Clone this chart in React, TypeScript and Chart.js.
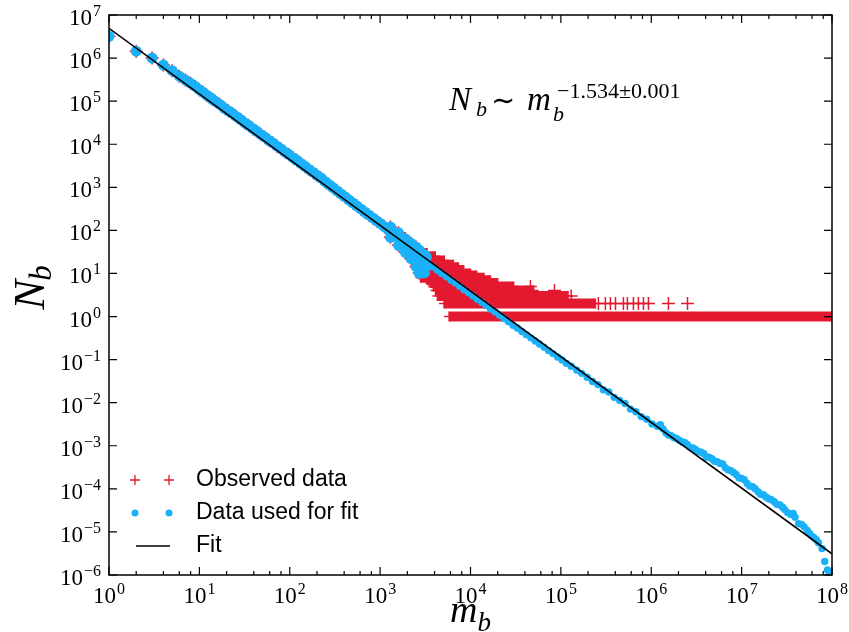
import React, { useEffect, useRef } from 'react';
import { Chart, registerables } from 'chart.js';

Chart.register(...registerables);

// ---------------- data ----------------
// main power-law trend, shared by "Observed data" and "Data used for fit"
const trendM = [1, 2, 3, 4, 5, 6, 7, 8, 9, 10, 11, 12, 13, 14, 15, 17, 19, 21, 23, 26, 29, 32, 35, 39, 43, 48, 53, 59, 65, 72, 80, 89, 98,
  109, 120, 133, 147, 163, 180, 200, 221, 245, 271, 300, 332, 367, 406, 450, 498, 551, 610, 675, 747, 827, 915,
  1013, 1121, 1241, 1373, 1520, 1682, 1862, 2061, 2281, 2525, 2795, 3094];
const trendN = [3.2e6, 1.45e6, 1.0e6, 6.9e5, 5.1e5, 3.8e5, 3.1e5, 2.6e5, 2.2e5, 1.84e5, 1.6e5, 1.38e5, 1.24e5, 1.09e5, 9.9e4,
  8.3e4, 6.8e4, 5.9e4, 5.25e4, 4.3e4, 3.65e4, 3.08e4, 2.74e4, 2.3e4, 2.0e4, 1.67e4, 1.46e4, 1.22e4, 1.07e4, 9.0e3, 7.8e3, 6.55e3, 5.75e3,
  4.8e3, 4.25e3, 3.55e3, 3.07e3, 2.6e3, 2.25e3, 1.9e3, 1.65e3, 1.37e3, 1.16e3, 984, 832, 706, 605, 512, 434, 372, 314, 266, 228, 195, 167,
  143, 120, 103, 86, 74, 62, 53, 44, 37, 31.7, 27.2, 23.3];

// widening scatter near the end of the trend (mostly below it)
const scatterM = [1300, 1300, 1600, 1600, 1900, 1900, 2200, 2200, 2200, 2500, 2500, 2500, 2700, 2700, 2700, 2900, 2900, 2900, 3100, 3100, 3250, 3250];
const scatterN = [69, 120, 45, 88, 31, 64, 22, 30, 50, 14.4, 21, 41, 10.2, 16, 35, 10.2, 19, 30, 10.4, 27, 15, 24];

// data used for fit beyond the trend (thin tail along the fit)
const tailM = [3400, 3800, 4300, 4800, 5400, 6100, 6800, 7600, 8500, 9500, 10600, 11900, 13300, 14900, 16700, 18700, 21000, 23500, 26300, 29500,
  33000, 37000, 41500, 46500, 52000, 58000, 65000, 73000, 82000, 92000, 103000, 115000, 130000, 150000, 170000, 195000,
  224000, 257000, 295000, 339000, 389000, 447000, 513000, 589000, 676000, 776000, 891000,
  1.02e6, 1.17e6, 1.35e6, 1.55e6, 1.78e6, 2.04e6, 2.34e6, 2.69e6, 3.09e6, 3.55e6, 4.07e6, 4.68e6, 5.37e6, 6.17e6, 7.08e6, 8.13e6, 9.33e6,
  1.07e7, 1.23e7, 1.41e7, 1.62e7, 1.86e7, 2.14e7, 2.45e7, 2.82e7, 3.24e7, 3.72e7, 4.27e7, 4.9e7, 5.62e7, 6.31e7, 7.08e7, 7.76e7,
  8.32e7, 8.91e7, 9.33e7, 9.77e7];
const tailN = [17.0, 14.3, 11.9, 10.0, 8.4, 7.0, 6.0, 5.0, 4.2, 3.55, 3.0, 2.52, 2.14, 1.8, 1.5, 1.28, 1.07, 0.9, 0.76, 0.63,
  0.54, 0.45, 0.38, 0.32, 0.27, 0.23, 0.195, 0.162, 0.138, 0.115, 0.098, 0.082, 0.07, 0.057, 0.048, 0.039,
  0.031, 0.0263, 0.0200, 0.0177, 0.0133, 0.0113, 0.0096, 0.0071, 0.00615, 0.00476, 0.00413,
  0.0032, 0.00284, 0.00247, 0.00178, 0.00155, 0.00134, 0.00119, 9.2e-4, 8.2e-4, 7.1e-4, 5.5e-4, 5.0e-4, 4.24e-4, 3.76e-4, 2.78e-4, 2.41e-4, 1.82e-4,
  1.62e-4, 1.17e-4, 1.01e-4, 7.5e-5, 6.5e-5, 5.6e-5, 4.4e-5, 3.8e-5, 2.8e-5, 2.67e-5, 1.56e-5, 1.33e-5, 9.4e-6, 7.3e-6, 5.6e-6, 4.1e-6,
  2.05e-6, 1.31e-6, 1.19e-6, 1.15e-6];
// more tail points in the sparse high-mass range
const tail2M = [1.26e6, 1.45e6, 1.66e6, 1.9e6, 2.2e6, 2.5e6, 2.9e6, 3.3e6, 3.8e6, 4.35e6, 5.0e6, 5.8e6, 6.6e6, 7.6e6, 8.7e6,
  1.0e7, 1.15e7, 1.32e7, 1.52e7, 1.74e7, 2.0e7, 2.3e7, 2.63e7, 3.0e7, 3.5e7, 3.9e7, 4.6e7, 5.3e7, 6.0e7, 6.7e7];
const tail2N = [0.0031, 0.0020, 0.00172, 0.00147, 0.00122, 0.00108, 8.9e-4, 7.4e-4, 6.6e-4, 5.4e-4, 4.4e-4, 3.9e-4, 3.1e-4, 2.65e-4, 2.15e-4,
  1.75e-4, 1.33e-4, 1.12e-4, 8.6e-5, 7.3e-5, 5.9e-5, 5.0e-5, 4.3e-5, 3.3e-5, 2.55e-5, 2.2e-5, 1.5e-5, 1.1e-5, 8.0e-6, 6.6e-6];

// observed data beyond the trend: rows of equal count N_b spanning a mass range
const rowN = [1, 2, 3, 4, 5, 6, 7, 8, 9, 10, 12, 14, 16, 20, 25, 30];
const rowStartM = [5800, 5100, 4300, 4100, 3870, 3600, 3330, 2800, 3000, 3000, 3000, 3100, 3100, 3100, 3100, 3100];
const rowEndM = [1e8, 2.41e5, 1.2e5, 5.0e4, 3.0e4, 2.0e4, 1.66e4, 1.41e4, 1.17e4, 1.0e4, 8410, 7330, 6460, 5130, 4070, 3300];

// isolated observed points
const sparseM = [8.5e4, 4.6e4, 1.3e5, 2.6e5, 3.11e5, 3.53e5, 4.02e5, 4.92e5, 5.45e5, 6.35e5, 7.21e5, 8.2e5, 9.31e5, 1.55e6, 2.52e6];
const sparseN = [4, 5, 3, 2, 2, 2, 2, 2, 2, 2, 2, 2, 2, 2, 2];

// fit: N_b ~ m_b^-1.534
const fitM = [1, 1e8];
const fitN = [4.9e6, 3.1e-6];

// axes
const xMajorExps = [0, 1, 2, 3, 4, 5, 6, 7, 8];
const xMinorSubs = [2, 4, 6, 8];
const yMajorExps = [-6, -5, -4, -3, -2, -1, 0, 1, 2, 3, 4, 5, 6, 7];

const legendLabels = ['Observed data', 'Data used for fit', 'Fit'];
const fitExponentText = '\u22121.534\u00B10.001';

// ---------------- styling ----------------
const RED = '#E4192F';
const BLUE = '#1BB1F8';
const SERIF = '"Liberation Serif", "DejaVu Serif", serif';
const SANS = '"Liberation Sans", Arial, sans-serif';

const pts = (ms: number[], ns: number[]) => ms.map((m, i) => ({ x: m, y: ns[i] }));

function supText(e: number) {
  return e < 0 ? '\u2212' + String(-e) : String(e);
}

function drawPow(ctx: CanvasRenderingContext2D, exp: number, x: number, baseY: number, supY: number, align: 'center' | 'right') {
  ctx.font = `23px ${SERIF}`;
  const wb = ctx.measureText('10').width;
  const s = supText(exp);
  ctx.font = `16px ${SERIF}`;
  const ws = ctx.measureText(s).width;
  const total = wb + 1 + ws;
  const x0 = align === 'center' ? x - total / 2 : x - total;
  ctx.textAlign = 'left';
  ctx.textBaseline = 'alphabetic';
  ctx.font = `23px ${SERIF}`;
  ctx.fillText('10', x0, baseY);
  ctx.font = `16px ${SERIF}`;
  ctx.fillText(s, x0 + wb + 1, supY);
}

const decorPlugin = {
  id: 'decor',
  afterDraw(chart: any) {
    const { ctx, chartArea: a } = chart;
    const xs = chart.scales.x;
    const ys = chart.scales.y;
    ctx.save();
    ctx.strokeStyle = '#000';
    ctx.fillStyle = '#000';

    // ticks (inward, on all four sides)
    ctx.lineWidth = 1.2;
    ctx.beginPath();
    for (const e of xMajorExps) {
      const px = xs.getPixelForValue(Math.pow(10, e));
      ctx.moveTo(px, a.bottom); ctx.lineTo(px, a.bottom - 8);
      ctx.moveTo(px, a.top); ctx.lineTo(px, a.top + 8);
    }
    for (const e of xMajorExps.slice(0, -1)) {
      for (const s of xMinorSubs) {
        const px = xs.getPixelForValue(s * Math.pow(10, e));
        ctx.moveTo(px, a.bottom); ctx.lineTo(px, a.bottom - 4);
        ctx.moveTo(px, a.top); ctx.lineTo(px, a.top + 4);
      }
    }
    for (const e of yMajorExps) {
      const py = ys.getPixelForValue(Math.pow(10, e));
      ctx.moveTo(a.left, py); ctx.lineTo(a.left + 8, py);
      ctx.moveTo(a.right, py); ctx.lineTo(a.right - 8, py);
    }
    ctx.stroke();

    ctx.lineWidth = 1.5;
    ctx.strokeRect(a.left, a.top, a.right - a.left, a.bottom - a.top);

    // tick labels
    for (const e of xMajorExps) {
      const px = xs.getPixelForValue(Math.pow(10, e));
      drawPow(ctx, e, px, a.bottom + 28, a.bottom + 19, 'center');
    }
    for (const e of yMajorExps) {
      const py = ys.getPixelForValue(Math.pow(10, e));
      drawPow(ctx, e, a.left - 8, py + 10, py + 1, 'right');
    }

    // axis titles
    ctx.textAlign = 'left';
    ctx.textBaseline = 'alphabetic';
    {
      ctx.font = `italic 38px ${SERIF}`;
      const wm = ctx.measureText('m').width;
      ctx.font = `italic 27px ${SERIF}`;
      const wsb = ctx.measureText('b').width;
      const cx = (a.left + a.right) / 2;
      const x0 = cx - (wm + wsb) / 2;
      ctx.font = `italic 38px ${SERIF}`;
      ctx.fillText('m', x0, 622);
      ctx.font = `italic 27px ${SERIF}`;
      ctx.fillText('b', x0 + wm, 631);
    }
    {
      ctx.save();
      ctx.translate(44, 287);
      ctx.rotate(-Math.PI / 2);
      ctx.font = `italic 45px ${SERIF}`;
      const wn = ctx.measureText('N').width;
      ctx.font = `italic 31px ${SERIF}`;
      const wsb = ctx.measureText('b').width;
      const x0 = -(wn + wsb) / 2;
      ctx.font = `italic 45px ${SERIF}`;
      ctx.fillText('N', x0, 0);
      ctx.font = `italic 31px ${SERIF}`;
      ctx.fillText('b', x0 + wn - 1, 7);
      ctx.restore();
    }

    // annotation  N_b ~ m_b^{-1.534±0.001}
    ctx.font = `italic 33px ${SERIF}`;
    ctx.fillText('N', 449, 110);
    ctx.font = `italic 22px ${SERIF}`;
    ctx.fillText('b', 476, 116);
    ctx.font = `29px "DejaVu Serif", serif`;
    ctx.fillText('\u223C', 491, 110);
    ctx.font = `italic 33px ${SERIF}`;
    ctx.fillText('m', 527, 110);
    ctx.font = `italic 22px ${SERIF}`;
    ctx.fillText('b', 553, 121);
    ctx.font = `22px ${SERIF}`;
    ctx.fillText(fitExponentText, 557, 98);

    // legend
    const lx1 = 135, lx2 = 169, ty = [480, 513, 546];
    ctx.strokeStyle = RED;
    ctx.lineWidth = 1.3;
    ctx.beginPath();
    for (const x of [lx1, lx2]) {
      ctx.moveTo(x - 5, ty[0]); ctx.lineTo(x + 5, ty[0]);
      ctx.moveTo(x, ty[0] - 5); ctx.lineTo(x, ty[0] + 5);
    }
    ctx.stroke();
    ctx.fillStyle = BLUE;
    for (const x of [lx1, lx2]) {
      ctx.beginPath();
      ctx.arc(x, ty[1], 3.5, 0, Math.PI * 2);
      ctx.fill();
    }
    ctx.strokeStyle = '#000';
    ctx.lineWidth = 1.5;
    ctx.beginPath();
    ctx.moveTo(136, ty[2]); ctx.lineTo(170, ty[2]);
    ctx.stroke();
    ctx.fillStyle = '#000';
    ctx.font = `23px ${SANS}`;
    ctx.textBaseline = 'middle';
    legendLabels.forEach((t, i) => ctx.fillText(t, 196, ty[i]));

    ctx.restore();
  },
};

export default function App() {
  const ref = useRef<HTMLCanvasElement | null>(null);

  useEffect(() => {
    if (!ref.current) return;
    const rowSets = rowN.map((n, i) => ({
      label: 'Observed data',
      data: [{ x: rowStartM[i], y: n }, { x: rowEndM[i], y: n }],
      showLine: true,
      borderColor: RED,
      borderWidth: 10,
      borderCapStyle: 'butt',
      pointStyle: 'cross',
      pointRadius: 5,
      pointBorderColor: RED,
      pointBorderWidth: 1.5,
      order: 3,
      clip: 0,
    }));
    const chart = new Chart(ref.current, {
      type: 'scatter',
      data: {
        datasets: [
          {
            label: 'Fit',
            data: pts(fitM, fitN),
            showLine: true,
            borderColor: '#000',
            borderWidth: 1.6,
            pointRadius: 0,
            order: 0,
            clip: 0,
          },
          {
            label: 'Data used for fit',
            data: [...pts(trendM, trendN), ...pts(scatterM, scatterN)],
            pointStyle: 'circle',
            pointRadius: 5.5,
            pointBackgroundColor: BLUE,
            pointBorderWidth: 0,
            order: 1,
            clip: 0,
          },
          {
            label: 'Data used for fit',
            data: [...pts(tailM, tailN), ...pts(tail2M, tail2N)],
            pointStyle: 'circle',
            pointRadius: 3.7,
            pointBackgroundColor: BLUE,
            pointBorderWidth: 0,
            order: 1,
            clip: 0,
          },
          {
            label: 'Observed data',
            data: [...pts(trendM, trendN), ...pts(scatterM, scatterN), ...pts(sparseM, sparseN)],
            pointStyle: 'cross',
            pointRadius: 6.5,
            pointBorderColor: RED,
            pointBorderWidth: 1.5,
            order: 2,
            clip: 0,
          },
          ...rowSets,
        ] as any,
      },
      options: {
        animation: false,
        responsive: false,
        events: [],
        layout: { padding: { top: 15, right: 17, left: 0, bottom: 0 } },
        plugins: { legend: { display: false }, tooltip: { enabled: false } },
        scales: {
          x: {
            type: 'logarithmic',
            min: 1,
            max: 1e8,
            ticks: { display: false },
            grid: { display: false },
            border: { display: false },
            afterFit: (s: any) => { s.height = 57; },
          },
          y: {
            type: 'logarithmic',
            min: 1e-6,
            max: 1e7,
            ticks: { display: false },
            grid: { display: false },
            border: { display: false },
            afterFit: (s: any) => { s.width = 109; },
          },
        },
      } as any,
      plugins: [decorPlugin],
    });
    return () => chart.destroy();
  }, []);

  return (
    <div style={{ position: 'absolute', left: 0, top: 0, width: 849, height: 632, background: '#fff' }}>
      <canvas ref={ref} width={849} height={632} style={{ display: 'block' }} />
    </div>
  );
}
